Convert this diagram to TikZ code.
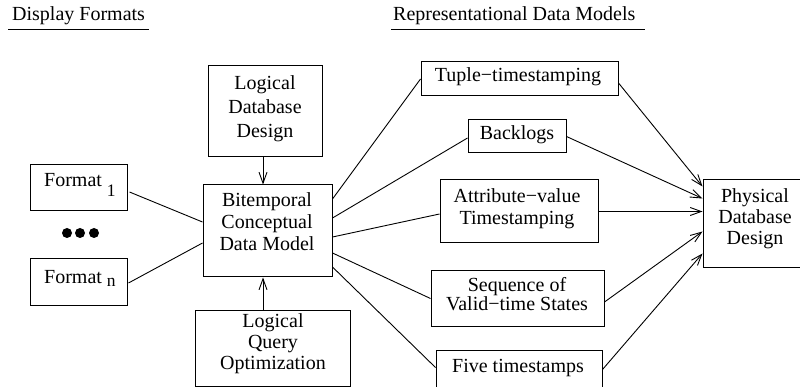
\documentclass[tikz,border=0pt]{standalone}
\usepackage{fontspec}
\setmainfont{Liberation Serif}
\usetikzlibrary{arrows.meta,calc}
\begin{document}
\begin{tikzpicture}[x=1pt,y=-1pt,
  box/.style={draw,line width=1pt,inner sep=0pt},
  txt/.style={inner sep=0pt,align=center,font=\fontsize{20}{22}\selectfont},
  conn/.style={line width=0.9pt},
  arr/.style={line width=0.9pt,-{Straight Barb[length=11pt,width=8pt,line width=0.9pt]}},
  dot/.style={circle,fill,inner sep=0pt,minimum size=10pt},
  uline/.style={line width=1pt}
]
\useasboundingbox (0,0) rectangle (800,387);
\clip (0,0) rectangle (800,387);

% titles
\node[txt,anchor=base west] (t1) at (12,21) {Display Formats};
\node[txt,anchor=base west] (t2) at (393,21) {Representational Data Models};
\draw[uline] ($(t1.base west)+(-4,9)$) -- ($(t1.base east)+(4,9)$);
\draw[uline] ($(t2.base west)+(-2,9)$) -- ($(t2.base east)+(9,9)$);

% boxes
\node[box,minimum width=97pt,minimum height=46pt] (fmt1) at (78.5,188) {};
\node[box,minimum width=97pt,minimum height=46pt] (fmtn) at (78.5,282) {};
\node[box,minimum width=114pt,minimum height=91pt] (ldd) at (265,111.5) {};
\node[box,minimum width=129pt,minimum height=92pt] (bcdm) at (267.5,231) {};
\node[box,minimum width=155pt,minimum height=76pt] (lqo) at (272.5,348) {};
\node[box,minimum width=197pt,minimum height=34pt] (tuple) at (519.5,79) {};
\node[box,minimum width=98pt,minimum height=33pt] (backlogs) at (517,136.5) {};
\node[box,minimum width=158pt,minimum height=63pt] (attr) at (519,211.5) {};
\node[box,minimum width=173pt,minimum height=55pt] (seq) at (517.5,298.5) {};
\node[box,minimum width=166pt,minimum height=55pt] (five) at (519,377.5) {};
\node[box,minimum width=105pt,minimum height=88pt] (phys) at (755.5,224) {};

% texts
\node[txt,anchor=base west] (fmt1t) at (44,187) {Format \raisebox{-9.5pt}{\fontsize{17.5}{17.5}\selectfont 1}};
\node[txt,anchor=base west] (fmtnt) at (44,283.3) {Format \raisebox{-3.5pt}{\fontsize{17.5}{17.5}\selectfont n}};
\node[txt,font=\fontsize{20}{24}\selectfont] (lddt) at (265,109) {Logical\\Database\\Design};
\node[txt] (bcdmt) at (267,222) {Bitemporal\\Conceptual\\Data Model};
\node[txt,font=\fontsize{20}{21}\selectfont] (lqot) at (273,344) {Logical\\Query\\Optimization};
\node[txt,anchor=base] (tuplet) at (518,82) {Tuple−timestamping};
\node[txt,anchor=base] (backlogst) at (517,139.5) {Backlogs};
\node[txt] (attrt) at (517,209) {Attribute−value\\Timestamping};
\node[txt,font=\fontsize{20}{19}\selectfont] (seqt) at (517,294.5) {Sequence of\\Valid−time States};
\node[txt,anchor=base] (fivet) at (518,372) {Five timestamps};
\node[txt,font=\fontsize{20}{21}\selectfont] (physt) at (755,219) {Physical\\Database\\Design};

% dots
\node[dot] (d1) at (67,233) {};
\node[dot] (d2) at (80,233) {};
\node[dot] (d3) at (94,233) {};

% connectors
\coordinate (vx) at (263,0);
\draw[conn] ($(fmt1.east)+(2,4)$) -- ($(bcdm.west)+(0,-9)$);
\draw[conn] ($(fmtn.east)+(1,1)$) -- ($(bcdm.west)+(0,12)$);
\draw[arr] (vx |- ldd.south) -- (vx |- bcdm.north);
\draw[arr] (vx |- lqo.north) -- (vx |- bcdm.south);

\draw[conn] ($(bcdm.east)+(0,-32)$) -- (tuple.west);
\draw[conn] ($(bcdm.east)+(0,-13)$) -- ($(backlogs.west)+(0,1.5)$);
\draw[conn] ($(bcdm.east)+(0,6)$) -- ($(attr.west)+(0,2.5)$);
\draw[conn] ($(bcdm.east)+(0,22)$) -- (seq.west);
\draw[conn] ($(bcdm.east)+(0,36)$) -- ($(five.north west)+(0,18)$);

\draw[arr] ($(tuple.east)+(0,4)$) -- ($(phys.north west)+(0,7)$);
\draw[arr] (backlogs.east) -- ($(phys.north west)+(0,19)$);
\draw[arr] (attr.east) -- ($(phys.north west)+(0,32)$);
\draw[arr] ($(seq.east)+(0,3.5)$) -- ($(phys.north west)+(0,52)$);
\draw[arr] ($(five.north east)+(0,20)$) -- ($(phys.north west)+(0,74)$);
\end{tikzpicture}
\end{document}
